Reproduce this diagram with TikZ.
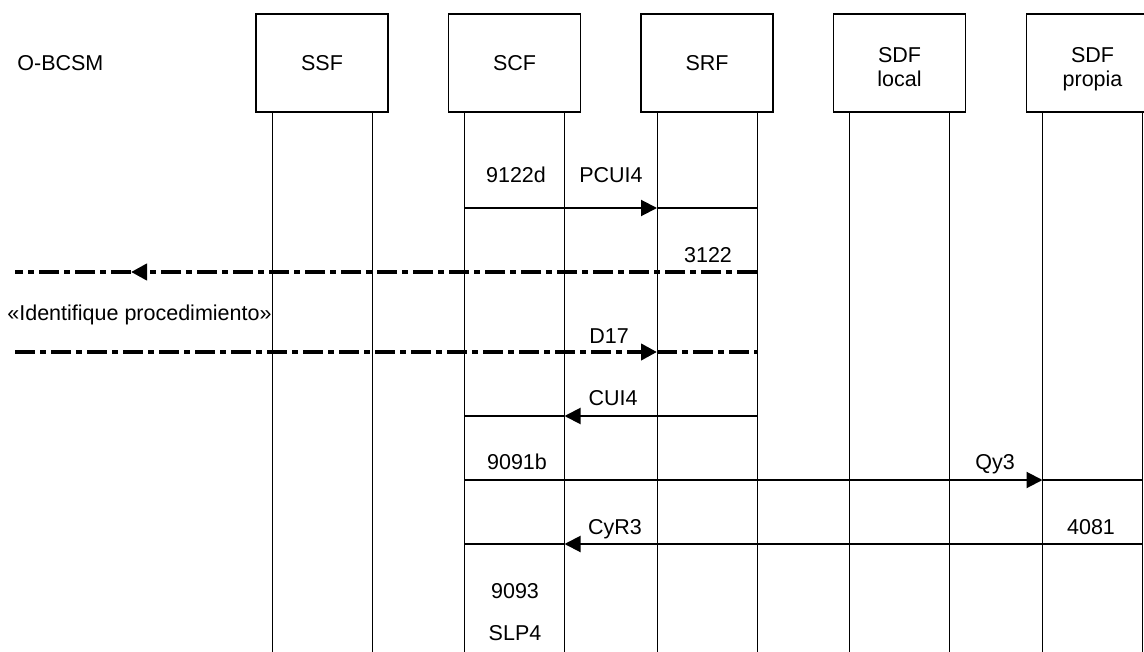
\documentclass[tikz,border=0pt]{standalone}
\usepackage{fontspec}
\setmainfont{Liberation Sans}
\usetikzlibrary{arrows.meta}

\begin{document}
\begin{tikzpicture}[
  x=0.5pt, y=-0.5pt,
  font=\fontsize{10.75}{12}\selectfont,
  ent/.style={draw, line width=0.55pt, align=center, inner sep=0pt,
              minimum width=66pt, minimum height=49pt},
  lbl/.style={inner sep=0pt, anchor=base},
  life/.style={line width=0.5pt},
  msg/.style={line width=1pt},
  ar/.style={-{Triangle[length=8pt, width=8pt]}},
  env/.style={line width=2pt, dash pattern=on 10pt off 2.6pt on 2.8pt off 2.6pt}
]
\useasboundingbox (0,0) rectangle (1144,652);
\clip (0,0) rectangle (1144,652);

\node[lbl, anchor=base west] at (17,71) (obcsm) {O-BCSM};
\node[ent] at (322,63)    (ssf)  {SSF};
\node[ent] at (514.5,63)  (scf)  {SCF};
\node[ent] at (707,63)    (srf)  {SRF};
\node[ent] at (899.5,63)  (sdfl) {\rule{0pt}{12pt}SDF\\local};
\node[ent] at (1092.5,63) (sdfp) {\rule{0pt}{14pt}SDF\\propia};

\foreach \n in {ssf,scf,srf,sdfl,sdfp} {
  \draw[life] ([xshift=-25pt]\n.south) coordinate (\n-l) -- ++(0,540);
  \draw[life] ([xshift=25pt]\n.south) coordinate (\n-r) -- ++(0,540);
}

\coordinate (m1) at (0,208);
\coordinate (m2) at (0,272);
\coordinate (m3) at (0,352);
\coordinate (m4) at (0,416);
\coordinate (m5) at (0,480);
\coordinate (m6) at (0,544);
\coordinate (tip-a) at (131,272);
\coordinate (end-a) at (15,272);
\coordinate (end-b) at (15,352);

\draw[msg, ar] (scf-l |- m1) -- (srf-l |- m1);
\draw[msg] (srf-l |- m1) -- (srf-r |- m1);
\draw[env, ar] (srf-r |- m2) -- (tip-a);
\draw[env] (tip-a) -- (end-a);
\draw[env, ar] (end-b) -- (srf-l |- m3);
\draw[env] (srf-l |- m3) -- (srf-r |- m3);
\draw[msg, ar] (srf-r |- m4) -- (scf-r |- m4);
\draw[msg] (scf-r |- m4) -- (scf-l |- m4);
\draw[msg, ar] (scf-l |- m5) -- (sdfp-l |- m5);
\draw[msg] (sdfp-l |- m5) -- (sdfp-r |- m5);
\draw[msg, ar] (sdfp-r |- m6) -- (scf-r |- m6);
\draw[msg] (scf-r |- m6) -- (scf-l |- m6);

\node[lbl] at (516,183) (t-9122d) {9122d};
\node[lbl] at (611,183) (t-pcui4) {PCUI4};
\node[lbl] at (708,262) (t-3122)  {3122};
\node[lbl, anchor=base west] at (7,320) (t-ident) {«Identifique procedimiento»};
\node[lbl] at (609,343) (t-d17)   {D17};
\node[lbl] at (613,405) (t-cui4)  {CUI4};
\node[lbl] at (517,469) (t-9091b) {9091b};
\node[lbl] at (995,469) (t-qy3)   {Qy3};
\node[lbl] at (615,534) (t-cyr3)  {CyR3};
\node[lbl] at (1091,534) (t-4081) {4081};
\node[lbl] at (515,598) (t-9093)  {9093};
\node[lbl] at (515,640) (t-slp4)  {SLP4};
\end{tikzpicture}
\end{document}
